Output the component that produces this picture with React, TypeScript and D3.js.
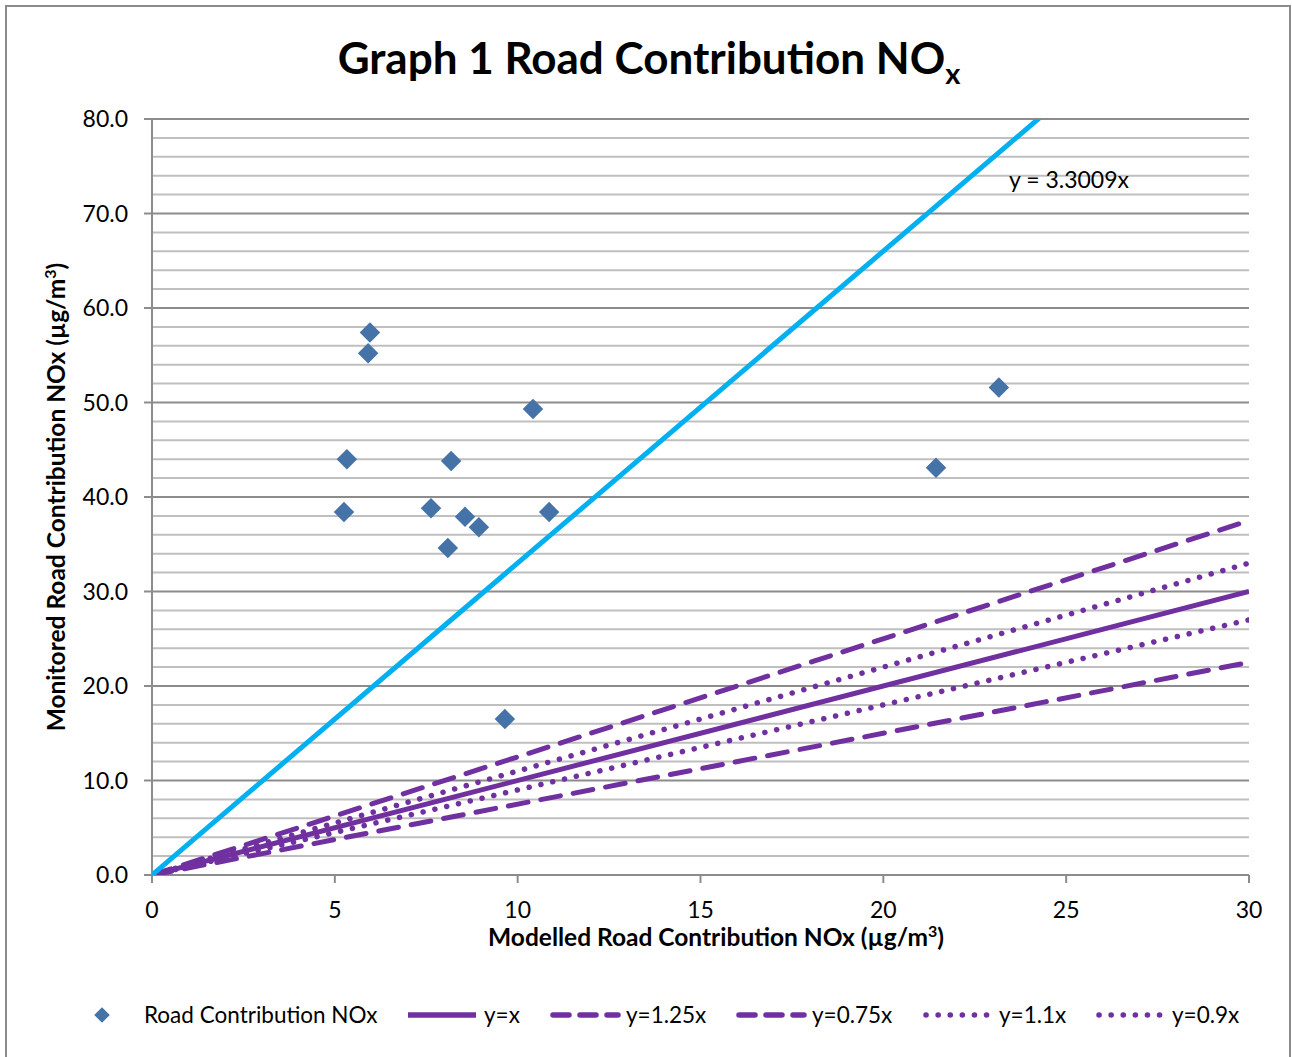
import React, { useEffect, useRef } from 'react';
import * as d3 from 'd3';

// modelled (x) vs monitored (y) road contribution NOx
const modelled = [5.96, 5.91, 5.33, 5.25, 8.18, 7.63, 8.56, 8.94, 8.09, 10.42, 10.86, 9.65, 21.44, 23.16];
const monitored = [57.4, 55.2, 44.0, 38.4, 43.8, 38.8, 37.9, 36.8, 34.6, 49.3, 38.4, 16.5, 43.1, 51.6];

const trendSlope = 3.3009;
const refLines = [
  { name: 'y=x', slope: 1, dash: 'none' },
  { name: 'y=1.25x', slope: 1.25, dash: 'dash' },
  { name: 'y=0.75x', slope: 0.75, dash: 'dash' },
  { name: 'y=1.1x', slope: 1.1, dash: 'dot' },
  { name: 'y=0.9x', slope: 0.9, dash: 'dot' },
];
const xTicks = [0, 5, 10, 15, 20, 25, 30];
const yTicks = [0, 10, 20, 30, 40, 50, 60, 70, 80];

const FONT = 'Lato, "Open Sans", sans-serif';
const PURPLE = '#7030A0';
const BLUE = '#00B0F0';
const MARKER = '#4572A7';

const App = () => {
  const svgRef = useRef();

  useEffect(() => {
    const svg = d3.select(svgRef.current);
    svg.selectAll('*').remove();

    const left = 152, right = 1249, top = 119, bottom = 875;
    const x = d3.scaleLinear().domain([0, 30]).range([left, right]);
    const y = d3.scaleLinear().domain([0, 80]).range([bottom, top]);

    // chart border
    svg.append('rect')
      .attr('x', 6).attr('y', 6).attr('width', 1284).attr('height', 1060)
      .attr('fill', 'white').attr('stroke', '#8c8c8c').attr('stroke-width', 2);

    // title
    const title = svg.append('text')
      .attr('x', 649).attr('y', 74)
      .attr('text-anchor', 'middle')
      .style('font-family', FONT).style('font-weight', 'bold').style('font-size', '44px');
    title.append('tspan').text('Graph 1 Road Contribution NO');
    title.append('tspan').attr('dy', 10).style('font-size', '29px').text('x');

    // gridlines: minor every 2, major every 10
    const minor = d3.range(2, 80, 2).filter(v => v % 10 !== 0);
    svg.append('g').selectAll('line').data(minor).enter().append('line')
      .attr('x1', left).attr('x2', right)
      .attr('y1', d => y(d)).attr('y2', d => y(d))
      .attr('stroke', '#bfbfbf').attr('stroke-width', 2);
    svg.append('g').selectAll('line').data(yTicks.slice(1)).enter().append('line')
      .attr('x1', left - 8).attr('x2', right)
      .attr('y1', d => y(d)).attr('y2', d => y(d))
      .attr('stroke', '#8c8c8c').attr('stroke-width', 2);

    // axes
    svg.append('line')
      .attr('x1', left).attr('x2', left).attr('y1', top).attr('y2', bottom)
      .attr('stroke', '#8c8c8c').attr('stroke-width', 2);
    svg.append('line')
      .attr('x1', left - 8).attr('x2', right).attr('y1', bottom).attr('y2', bottom)
      .attr('stroke', '#8c8c8c').attr('stroke-width', 2);
    svg.append('g').selectAll('line').data(xTicks).enter().append('line')
      .attr('x1', d => x(d)).attr('x2', d => x(d))
      .attr('y1', bottom).attr('y2', bottom + 8)
      .attr('stroke', '#8c8c8c').attr('stroke-width', 2);

    svg.append('g').selectAll('text').data(yTicks).enter().append('text')
      .attr('x', left - 24).attr('y', d => y(d) + 8)
      .attr('text-anchor', 'end')
      .style('font-family', FONT).style('font-size', '23px')
      .text(d => d.toFixed(1));
    svg.append('g').selectAll('text').data(xTicks).enter().append('text')
      .attr('x', d => x(d)).attr('y', bottom + 43)
      .attr('text-anchor', 'middle')
      .style('font-family', FONT).style('font-size', '23px')
      .text(d => d);

    // axis titles
    const xt = svg.append('text')
      .attr('x', 716).attr('y', 946)
      .attr('text-anchor', 'middle')
      .style('font-family', FONT).style('font-weight', 'bold').style('font-size', '24.5px');
    xt.append('tspan').text('Modelled Road Contribution NOx (µg/m');
    xt.append('tspan').attr('dy', -9).style('font-size', '16px').text('3');
    xt.append('tspan').attr('dy', 9).text(')');

    const yt = svg.append('text')
      .attr('transform', 'translate(65,497) rotate(-90)')
      .attr('text-anchor', 'middle')
      .style('font-family', FONT).style('font-weight', 'bold').style('font-size', '24.5px');
    yt.append('tspan').text('Monitored Road Contribution NOx (µg/m');
    yt.append('tspan').attr('dy', -9).style('font-size', '16px').text('3');
    yt.append('tspan').attr('dy', 9).text(')');

    // clip for lines
    svg.append('clipPath').attr('id', 'plot-clip')
      .append('rect').attr('x', left).attr('y', top).attr('width', right - left).attr('height', bottom - top);

    const dashFor = (d) => d === 'dash' ? '20 13' : d === 'dot' ? '0.1 12' : null;
    const capFor = (d) => d === 'none' ? 'butt' : 'round';

    const lines = svg.append('g').attr('clip-path', 'url(#plot-clip)');
    refLines.forEach(r => {
      lines.append('line')
        .attr('x1', x(0)).attr('y1', y(0))
        .attr('x2', x(30)).attr('y2', y(30 * r.slope))
        .attr('stroke', PURPLE)
        .attr('stroke-width', r.dash === 'dot' ? 5.5 : 5)
        .attr('stroke-dasharray', dashFor(r.dash))
        .attr('stroke-linecap', capFor(r.dash));
    });
    lines.append('line')
      .attr('x1', x(0)).attr('y1', y(0))
      .attr('x2', x(30)).attr('y2', y(30 * trendSlope))
      .attr('stroke', BLUE).attr('stroke-width', 5);

    svg.append('text')
      .attr('x', 1009).attr('y', 188)
      .style('font-family', FONT).style('font-size', '23px')
      .text('y = 3.3009x');

    // points
    const diamond = d3.symbol(d3.symbolSquare, 210)();
    svg.append('g').selectAll('path').data(modelled).enter().append('path')
      .attr('d', diamond)
      .attr('transform', (d, i) => `translate(${x(d)},${y(monitored[i])}) rotate(45)`)
      .attr('fill', MARKER);

    // legend
    const ly = 1015;
    const legend = svg.append('g');
    legend.append('path')
      .attr('d', d3.symbol(d3.symbolSquare, 120)())
      .attr('transform', `translate(102,${ly}) rotate(45)`)
      .attr('fill', MARKER);
    legend.append('text')
      .attr('x', 144).attr('y', ly + 8)
      .style('font-family', FONT).style('font-size', '22.5px')
      .text('Road Contribution NOx');

    const legendX = [408, 550, 736, 923, 1096];
    refLines.forEach((r, i) => {
      const lx = legendX[i];
      legend.append('line')
        .attr('x1', lx + (r.dash === 'none' ? 0 : 3)).attr('x2', lx + 68)
        .attr('y1', ly).attr('y2', ly)
        .attr('stroke', PURPLE)
        .attr('stroke-width', r.dash === 'dot' ? 5.5 : 5.5)
        .attr('stroke-dasharray', r.dash === 'dash' ? '16 11' : dashFor(r.dash))
        .attr('stroke-linecap', capFor(r.dash));
      legend.append('text')
        .attr('x', lx + 76).attr('y', ly + 8)
        .style('font-family', FONT).style('font-size', '22.5px')
        .text(r.name);
    });
  }, []);

  return (
    <div style={{ position: 'absolute', left: 0, top: 0, width: 1292, height: 1057, background: 'white' }}>
      <svg ref={svgRef} width={1292} height={1057}></svg>
    </div>
  );
};

export default App;
